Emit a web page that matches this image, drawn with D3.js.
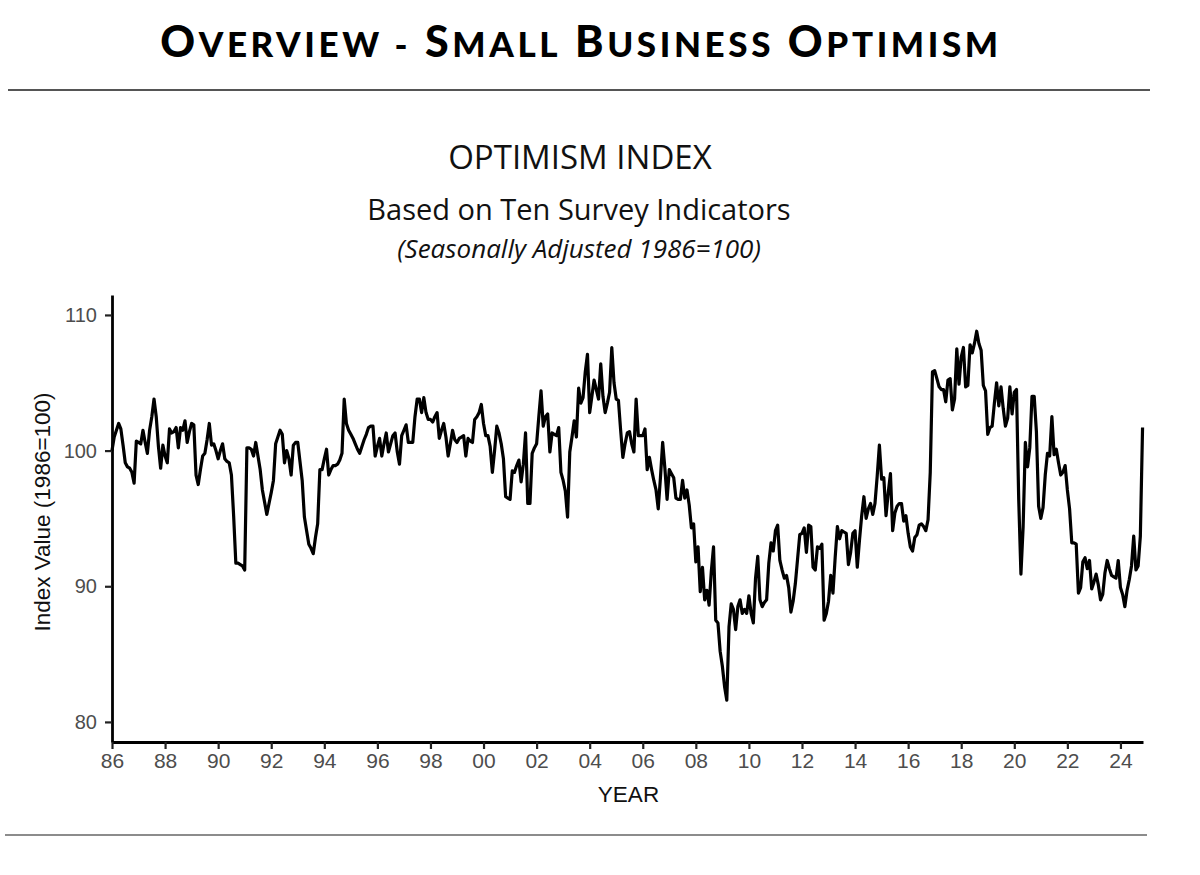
<!DOCTYPE html>
<html>
<head>
<meta charset="utf-8">
<script src="https://cdn.jsdelivr.net/npm/d3@7"></script>
<style>
  html, body { margin: 0; padding: 0; background: #fff; }
  svg { display: block; }
</style>
</head>
<body>
<svg id="chart" width="1200" height="875"></svg>
<script>
// ---------------- DATA ----------------
const titleText = "Overview - Small Business Optimism";
const chartTitle = "OPTIMISM INDEX";
const chartSubtitle = "Based on Ten Survey Indicators";
const chartNote = "(Seasonally Adjusted 1986=100)";
const yAxisTitle = "Index Value (1986=100)";
const xAxisTitle = "YEAR";

const startYear = 1986;           // first monthly observation: Jan 1986
const yTickValues = [80, 90, 100, 110];
const xTickYears = [1986,1988,1990,1992,1994,1996,1998,2000,2002,2004,2006,2008,2010,2012,2014,2016,2018,2020,2022,2024];
const xTickLabels = ["86","88","90","92","94","96","98","00","02","04","06","08","10","12","14","16","18","20","22","24"];

// Monthly Small Business Optimism Index, Jan 1986 – Nov 2024
const indexValues = [
  // 1986
  100.0,101.0,101.5,102.0,101.6,100.4,99.1,98.8,98.7,98.4,97.6,100.7,
  // 1987
  100.6,100.5,101.5,100.6,99.8,101.5,102.5,103.8,102.5,100.3,98.7,100.4,
  // 1988
  99.6,99.1,101.6,101.3,101.4,101.7,100.2,101.7,101.5,102.2,100.6,101.4,
  // 1989
  102.0,101.9,98.2,97.5,98.6,99.6,99.8,100.8,102.0,100.4,100.5,100.0,
  // 1990
  99.4,100.0,100.5,99.4,99.2,99.1,98.2,95.2,91.7,91.7,91.6,91.5,
  // 1991
  91.2,100.2,100.2,100.1,99.6,100.6,99.6,98.6,97.1,96.2,95.3,96.1,
  // 1992
  96.9,97.8,100.5,101.0,101.5,101.2,99.1,100.0,99.4,98.2,100.4,100.6,
  // 1993
  100.6,99.2,97.8,95.1,94.1,93.1,92.8,92.4,93.6,94.6,98.6,98.6,
  // 1994
  99.4,100.1,98.2,98.6,98.9,98.9,99.0,99.3,99.8,103.8,102.0,101.5,
  // 1995
  101.2,100.9,100.5,100.1,99.8,100.3,100.8,101.2,101.7,101.8,101.8,99.6,
  // 1996
  100.3,100.9,99.6,100.5,101.3,99.9,100.5,101.1,101.3,99.9,99.0,101.1,
  // 1997
  101.5,101.9,100.6,100.6,100.6,102.5,103.8,103.8,102.8,103.9,102.8,102.3,
  // 1998
  102.3,102.1,102.5,102.8,100.9,101.5,102.0,101.0,99.6,100.5,101.5,100.8,
  // 1999
  100.6,100.9,101.0,101.1,99.6,100.9,100.7,100.6,102.3,102.5,102.8,103.4,
  // 2000
  102.0,101.1,101.1,100.3,98.4,100.0,101.8,101.3,100.5,99.4,96.6,96.5,
  // 2001
  96.4,98.5,98.4,98.9,99.3,97.7,99.0,101.3,96.1,96.1,99.8,100.2,
  // 2002
  100.5,102.5,104.4,101.8,102.5,102.7,99.9,101.3,101.2,101.1,101.7,98.4,
  // 2003
  97.8,97.0,95.1,99.9,101.0,102.2,101.0,104.6,103.5,103.9,105.8,107.1,
  // 2004
  102.8,104.0,105.2,104.5,103.8,106.4,104.0,102.8,103.5,104.3,107.6,105.0,
  // 2005
  103.8,103.7,101.5,99.5,100.5,101.3,101.4,100.5,99.9,103.8,101.1,101.1,
  // 2006
  101.1,101.6,98.6,99.5,98.6,97.8,97.1,95.7,98.0,100.6,98.7,96.4,
  // 2007
  98.6,98.3,98.0,96.5,96.4,96.4,97.8,96.5,97.1,96.0,94.3,94.6,
  // 2008
  91.8,92.9,89.6,91.4,89.0,89.7,88.6,91.1,92.9,87.5,87.3,85.2,
  // 2009
  84.1,82.6,81.6,87.0,88.7,88.3,86.8,88.5,89.0,88.0,88.3,88.0,
  // 2010
  89.3,88.0,87.3,90.6,92.2,89.0,88.5,88.8,89.0,91.7,93.2,92.6,
  // 2011
  94.1,94.5,91.9,91.2,90.6,90.8,89.9,88.1,88.9,90.2,92.0,93.8,
  // 2012
  93.9,94.3,92.5,94.5,94.4,91.4,91.2,92.9,92.8,93.1,87.5,88.0,
  // 2013
  88.9,90.8,89.5,92.1,94.4,93.5,94.1,94.0,93.9,91.6,92.5,93.9,
  // 2014
  94.1,91.4,93.4,95.2,96.6,95.0,95.7,96.1,95.3,96.1,98.1,100.4,
  // 2015
  97.9,98.0,95.2,96.9,98.3,94.1,95.4,95.9,96.1,96.1,94.8,95.2,
  // 2016
  93.9,92.9,92.6,93.6,93.8,94.5,94.6,94.4,94.1,94.9,98.4,105.8,
  // 2017
  105.9,105.3,104.7,104.5,104.5,103.6,105.2,105.3,103.0,103.8,107.5,104.9,
  // 2018
  106.9,107.6,104.7,104.8,107.8,107.2,107.9,108.8,107.9,107.4,104.8,104.4,
  // 2019
  101.2,101.7,101.8,103.5,105.0,103.3,104.7,103.1,101.8,102.4,104.7,102.7,
  // 2020
  104.3,104.5,96.4,90.9,94.4,100.6,98.8,100.2,104.0,104.0,101.4,95.9,
  // 2021
  95.0,95.8,98.2,99.8,99.6,102.5,99.7,100.1,99.1,98.2,98.4,98.9,
  // 2022
  97.1,95.7,93.2,93.2,93.1,89.5,89.9,91.8,92.1,91.3,91.9,89.8,
  // 2023
  90.3,90.9,90.1,89.0,89.4,91.0,91.9,91.3,90.8,90.7,90.6,91.9,
  // 2024
  89.9,89.4,88.5,89.7,90.5,91.5,93.7,91.2,91.5,93.7,101.7
];

// ---------------- CHART ----------------
const svg = d3.select("#chart");
svg.append("rect").attr("width", 1200).attr("height", 875).attr("fill", "#fff");

// Page title in small caps
const words = titleText.split(" ");
const titleG = svg.append("text")
  .attr("x", 581).attr("y", 57)
  .attr("text-anchor", "middle")
  .attr("font-family", "Lato, 'DejaVu Sans', sans-serif")
  .attr("font-weight", 900)
  .attr("fill", "#000")
  .attr("letter-spacing", "3.6");
words.forEach((word, wi) => {
  const lead = wi ? " " : "";
  if (word === "-") {
    titleG.append("tspan").attr("font-size", 35).text(lead + "-");
    return;
  }
  titleG.append("tspan").attr("font-size", 43).text(lead + word[0].toUpperCase());
  titleG.append("tspan").attr("font-size", 35).text(word.slice(1).toUpperCase());
});

// Rules
svg.append("line").attr("x1", 8).attr("x2", 1150).attr("y1", 90).attr("y2", 90)
  .attr("stroke", "#555").attr("stroke-width", 2);
svg.append("line").attr("x1", 5).attr("x2", 1147).attr("y1", 835).attr("y2", 835)
  .attr("stroke", "#666").attr("stroke-width", 1.6);

// Chart titles
svg.append("text").attr("x", 580).attr("y", 169).attr("text-anchor", "middle")
  .attr("font-family", "'Open Sans', sans-serif").attr("font-size", 33).attr("fill", "#111")
  .text(chartTitle);
svg.append("text").attr("x", 579).attr("y", 220).attr("text-anchor", "middle")
  .attr("font-family", "'Open Sans', sans-serif").attr("font-size", 29).attr("fill", "#111")
  .text(chartSubtitle);
svg.append("text").attr("x", 579).attr("y", 258).attr("text-anchor", "middle")
  .attr("font-family", "'Open Sans', sans-serif").attr("font-style", "italic")
  .attr("font-size", 26).attr("fill", "#111")
  .text(chartNote);

// Scales
const x = d3.scaleLinear().domain([1986, 2024.85]).range([112, 1143]);
const y = d3.scaleLinear().domain([78.52, 111.47]).range([742, 295]);

const series = indexValues.map((v, i) => ({ t: startYear + i / 12, v }));

// Axes
const yAxis = d3.axisLeft(y).tickValues(yTickValues).tickSize(7).tickSizeOuter(0).tickPadding(8);
const xAxis = d3.axisBottom(x).tickValues(xTickYears)
  .tickFormat((d, i) => xTickLabels[i]).tickSize(7).tickSizeOuter(0).tickPadding(4);

const gy = svg.append("g").attr("transform", "translate(112,0)").call(yAxis);
const gx = svg.append("g").attr("transform", "translate(0,742)").call(xAxis);

[gx, gy].forEach(g => {
  g.select(".domain").attr("stroke", "#000").attr("stroke-width", 2.8);
  g.selectAll(".tick line").attr("stroke", "#222").attr("stroke-width", 2.2);
  g.selectAll(".tick text")
    .attr("font-family", "'Liberation Sans', Arial, sans-serif")
    .attr("fill", "#4d4d4d");
});
gx.selectAll(".tick text").attr("font-size", 21);
gy.selectAll(".tick text").attr("font-size", 20);

// Line
svg.append("path")
  .datum(series)
  .attr("fill", "none")
  .attr("stroke", "#000")
  .attr("stroke-width", 3.2)
  .attr("stroke-linejoin", "round")
  .attr("d", d3.line().x(d => x(d.t)).y(d => y(d.v)));

// Axis titles
svg.append("text")
  .attr("transform", "translate(50,512) rotate(-90)")
  .attr("text-anchor", "middle")
  .attr("font-family", "'Liberation Sans', Arial, sans-serif")
  .attr("font-size", 22.5).attr("fill", "#111")
  .text(yAxisTitle);
svg.append("text")
  .attr("x", 628.5).attr("y", 802).attr("text-anchor", "middle")
  .attr("font-family", "'Liberation Sans', Arial, sans-serif")
  .attr("font-size", 22.5).attr("fill", "#111")
  .text(xAxisTitle);
</script>
</body>
</html>
